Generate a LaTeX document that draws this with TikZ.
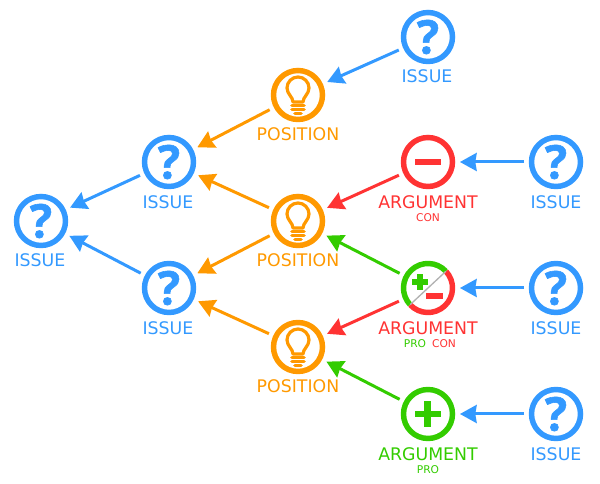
\documentclass[tikz,border=0pt]{standalone}
\usepackage{fontspec}
\setmainfont{DejaVu Sans}
\newfontfamily\markfont[BoldFeatures={FakeBold=1.2}]{Open Sans}
\usetikzlibrary{arrows.meta}
\definecolor{issueblue}{RGB}{51,153,255}
\definecolor{posorange}{RGB}{255,153,0}
\definecolor{conred}{RGB}{255,51,51}
\definecolor{progreen}{RGB}{51,204,0}
\tikzset{every picture/.style={line width=0.75pt},
  ring/.style={circle,minimum size=36.75pt,inner sep=0pt,outer sep=5.6pt},
  issue/.style={ring,draw=issueblue,line width=4.1pt,text=issueblue,font=\fontsize{35pt}{35pt}\markfont\bfseries},
  position/.style={ring,draw=posorange,line width=4.1pt},
  argcon/.style={ring,draw=conred,line width=4.1pt},
  argpro/.style={ring,draw=progreen,line width=4.1pt},
  argboth/.style={ring},
  biglabel/.style={font=\fontsize{13pt}{14pt}\selectfont,inner sep=0pt},
  smalllabel/.style={font=\fontsize{8pt}{9pt}\selectfont,inner sep=0pt},
  link/.style={line width=2.25pt,-{Stealth[length=12.5pt,width=13.5pt,inset=1pt]}},
  bulb/.pic={
    \draw [posorange,line width=2.4pt,line join=round] (-5,7) .. controls (-5,2) and (-11,-1) .. (-11,-7) arc (180:360:11) .. controls (11,-1) and (5,2) .. (5,7) -- cycle ;
    \draw [posorange,line width=2.7pt,line cap=round] (-6,10.5) -- (6,10.5) ;
    \draw [posorange,line width=2.7pt,line cap=round] (-6,14.5) -- (6,14.5) ;
    \draw [posorange,line width=2.7pt,line cap=round] (-3,18.5) -- (3,18.5) ;
  }
}

\begin{document}
\begin{tikzpicture}[x=0.75pt,y=0.75pt,yscale=-1,xscale=1]
\useasboundingbox (0,0) rectangle (600,484);

%Issues
\node (issueroot) [issue] at (41,221) {?};
\node (issueup) [issue] at (169,162) {?};
\node (issuedown) [issue] at (169,288) {?};
\node (issuetop) [issue] at (428,37) {?};
\node (issuecon) [issue] at (556,162) {?};
\node (issueboth) [issue] at (556,288) {?};
\node (issuepro) [issue] at (556,414) {?};

%Positions
\node (posA) [position] at (298,95) {};
\node (posB) [position] at (298,221) {};
\node (posC) [position] at (298,347) {};
\pic [transform shape] at (posA) {bulb};
\pic [transform shape] at (posB) {bulb};
\pic [transform shape] at (posC) {bulb};

%Arguments
\node (argA) [argcon] at (428,162) {};
\fill [conred] (414.5,159) rectangle (440.5,165);
\node (argB) [argboth] at (428,288) {};
\draw [line width=4.1pt,progreen] (argB.center) ++(-43:24.5) arc (-43:-223:24.5);
\draw [line width=4.1pt,conred] (argB.center) ++(-43:24.5) arc (-43:137:24.5);
\draw [line width=1pt,black!30] (argB.center) ++(-43:24.5) -- ++(137:49);
\fill [progreen] (412,279.25) rectangle (428,284.75);
\fill [progreen] (417.25,274) rectangle (422.75,290);
\fill [conred] (426,293.25) rectangle (443,298.75);
\node (argC) [argpro] at (428,414) {};
\fill [progreen] (414.5,410.75) rectangle (440.5,417.25);
\fill [progreen] (424.25,401.5) rectangle (430.75,427.5);

%Text Node
\node (tissueroot) [biglabel,text=issueblue] at (40,260) {ISSUE};
\node (tissueup) [biglabel,text=issueblue] at (168,202) {ISSUE};
\node (tissuedown) [biglabel,text=issueblue] at (168,328) {ISSUE};
\node (tissuetop) [biglabel,text=issueblue] at (427,76) {ISSUE};
\node (tissuecon) [biglabel,text=issueblue] at (556,202) {ISSUE};
\node (tissueboth) [biglabel,text=issueblue] at (556,328) {ISSUE};
\node (tissuepro) [biglabel,text=issueblue] at (556,454) {ISSUE};
\node (tposA) [biglabel,text=posorange] at (298,134) {POSITION};
\node (tposB) [biglabel,text=posorange] at (298,260) {POSITION};
\node (tposC) [biglabel,text=posorange] at (298,386) {POSITION};
\node (targA) [biglabel,text=conred] at (428,202) {ARGUMENT};
\node (targB) [biglabel,text=conred] at (428,328) {ARGUMENT};
\node (targC) [biglabel,text=progreen] at (428,454) {ARGUMENT};
\node (subA) [smalllabel,text=conred] at (428,218) {CON};
\node (subBpro) [smalllabel,text=progreen] at (415,344) {PRO};
\node (subBcon) [smalllabel,text=conred] at (444,344) {CON};
\node (subC) [smalllabel,text=progreen] at (428,470) {PRO};

%Straight Lines
\draw [link,issueblue] (issuetop) -- (posA);
\draw [link,posorange] (posA) -- (issueup);
\draw [link,posorange] (posB) -- (issueup);
\draw [link,posorange] (posB) -- (issuedown);
\draw [link,posorange] (posC) -- (issuedown);
\draw [link,issueblue] (issueup) -- (issueroot);
\draw [link,issueblue] (issuedown) -- (issueroot);
\draw [link,conred] (argA) -- (posB);
\draw [link,progreen] (argB) -- (posB);
\draw [link,conred] (argB) -- (posC);
\draw [link,progreen] (argC) -- (posC);
\draw [link,issueblue] (issuecon) -- (argA);
\draw [link,issueblue] (issueboth) -- (argB);
\draw [link,issueblue] (issuepro) -- (argC);

\end{tikzpicture}
\end{document}
